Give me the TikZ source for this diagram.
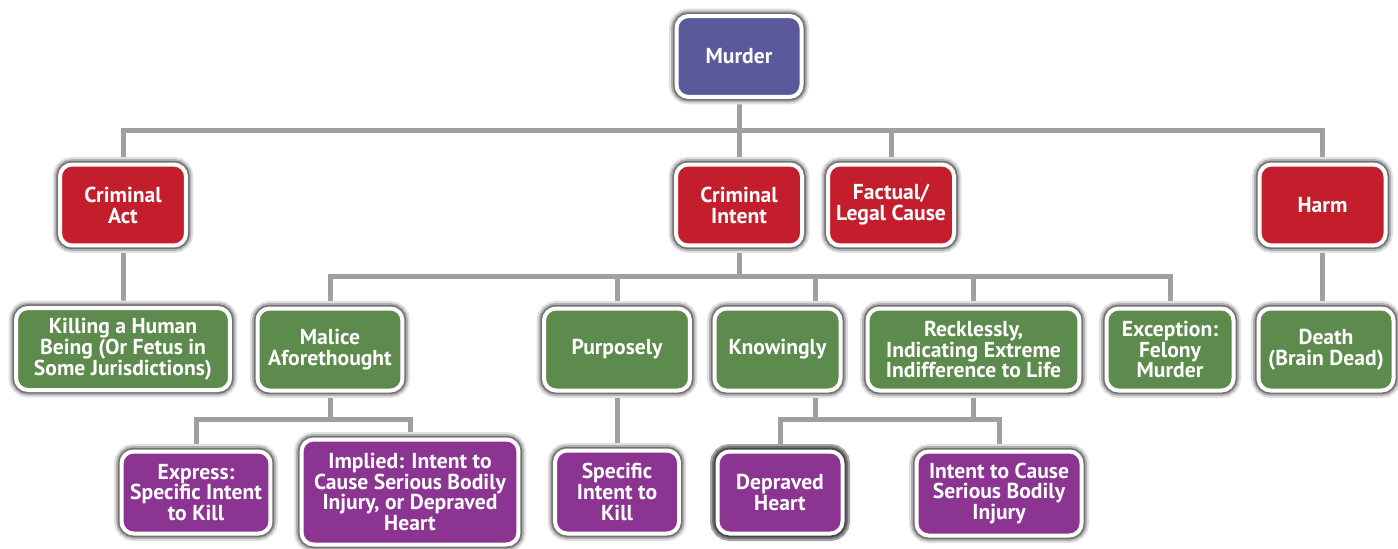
\documentclass[tikz,border=0pt]{standalone}
\usepackage{fontspec}
\setmainfont{PT Sans}
\usetikzlibrary{backgrounds}
\definecolor{murderblue}{RGB}{89,89,156}
\definecolor{elemred}{RGB}{196,30,45}
\definecolor{mentgreen}{RGB}{93,138,77}
\definecolor{kindpurple}{RGB}{139,52,146}
\definecolor{linkgray}{RGB}{160,160,160}
\begin{document}
\begin{tikzpicture}[x=0.02cm,y=-0.02cm,
	box/.style={rounded corners=0.24cm,draw=white,line width=0.08cm,
		text=white,font=\fontsize{12.3}{11.9}\selectfont\bfseries,
		align=center,inner sep=0pt,
		preaction={draw=black!12,line width=0.30cm},
		preaction={draw=black!30,line width=0.22cm},
		preaction={draw=black!55,line width=0.15cm}},
	deep/.style={preaction={draw=black!35,line width=0.30cm},
		preaction={draw=black!55,line width=0.22cm},
		preaction={draw=black!72,line width=0.15cm}},
	crime/.style={box,fill=murderblue,minimum width=2.5cm,minimum height=1.62cm},
	elem/.style={box,fill=elemred,minimum width=2.52cm,minimum height=1.62cm},
	mode/.style={box,fill=mentgreen,minimum height=1.64cm},
	kind/.style={box,fill=kindpurple,minimum height=1.64cm},
	link/.style={draw=linkgray,line width=0.1cm}]
\useasboundingbox (0,0) rectangle (1398,548);
\node[crime] (murder) at (739,56.5) {Murder};
\node[elem] (act) at (123,205) {Criminal\\Act};
\node[elem] (intent) at (739,205) {Criminal\\Intent};
\node[elem] (cause) at (891,205) {Factual/\\Legal Cause};
\node[elem] (harm) at (1322.5,205) {Harm};
\node[mode,minimum width=4.28cm] (killing) at (123,349) {Killing a Human\\Being (Or Fetus in\\Some Jurisdictions)};
\node[mode,minimum width=2.90cm] (malice) at (330,349.5) {Malice\\Aforethought};
\node[mode,minimum width=2.92cm] (purpose) at (617,349.5) {Purposely};
\node[mode,minimum width=2.52cm] (know) at (777.5,349.5) {Knowingly};
\node[mode,minimum width=4.24cm] (reckless) at (973.5,349.5) {Recklessly,\\Indicating Extreme\\Indifference to Life};
\node[mode,minimum width=2.54cm] (felony) at (1170,349.5) {Exception:\\Felony\\Murder};
\node[mode,minimum width=2.70cm] (death) at (1326,349.5) {Death\\(Brain Dead)};
\node[kind,minimum width=2.98cm] (express) at (196,492.5) {Express:\\Specific Intent\\to Kill};
\node[kind,minimum width=4.34cm,minimum height=2.10cm] (implied) at (410,492) {Implied: Intent to\\Cause Serious Bodily\\Injury, or Depraved\\Heart};
\node[kind,minimum width=2.48cm,minimum height=1.66cm] (specific) at (617,492) {Specific\\Intent to\\Kill};
\node[kind,deep,minimum width=2.50cm] (depraved) at (780,492.5) {Depraved\\Heart};
\node[kind,minimum width=3.30cm,minimum height=1.68cm] (injury) at (999,493.5) {Intent to Cause\\Serious Bodily\\Injury};
\begin{scope}[on background layer]
\coordinate (bustop) at (0,130);
\coordinate (busmid) at (0,276);
\coordinate (buslow) at (0,419);
\coordinate (ktop) at ([xshift=0.75cm]know.north);
\coordinate (kbot) at ([xshift=0.75cm]know.south);
\foreach \n in {act,intent,cause,harm}
	\draw[link] (murder) -- (murder |- bustop) -| (\n);
\foreach \n in {malice,purpose,reckless,felony}
	\draw[link] (intent) -- (intent |- busmid) -| (\n);
\draw[link] (intent |- busmid) -| (ktop);
\foreach \n in {express,implied}
	\draw[link] (malice) -- (malice |- buslow) -| (\n);
\draw[link] (kbot) -- (kbot |- buslow);
\draw[link] (reckless) -- (reckless |- buslow);
\draw[link] (depraved.north) |- (injury |- buslow) -- (injury);
\draw[link] (act) -- (killing);
\draw[link] (purpose) -- (specific);
\draw[link] (harm) -- (harm |- death.north);
\end{scope}
\end{tikzpicture}
\end{document}
